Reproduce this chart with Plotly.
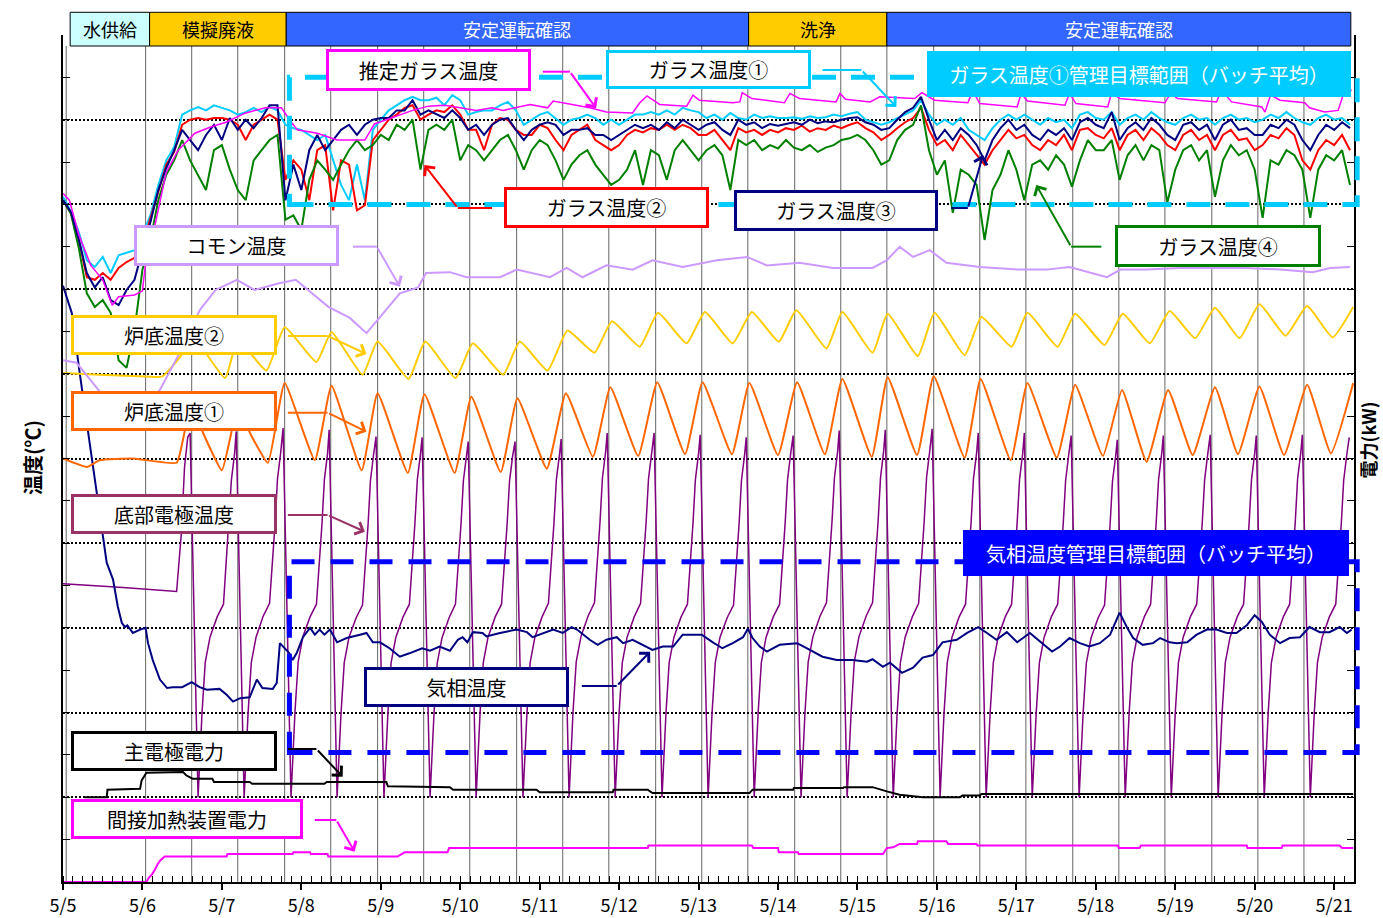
import numpy as np
import plotly.graph_objects as go

# ---------------- axis / period definitions (x = days elapsed since 5/5 00:00) ----------------
DAY_LABELS = ["5/5", "5/6", "5/7", "5/8", "5/9", "5/10", "5/11", "5/12", "5/13",
              "5/14", "5/15", "5/16", "5/17", "5/18", "5/19", "5/20", "5/21"]
X_MAX = 16.25

PHASE_NAMES = ["水供給", "模擬廃液", "安定運転確認", "洗浄", "安定運転確認"]
PHASE_START = [0.09, 1.09, 2.81, 8.63, 10.37]
PHASE_END = [1.09, 2.81, 8.63, 10.37, 16.21]
PHASE_FILL = ["#CCFFFF", "#FFCC00", "#3366FF", "#FFCC00", "#3366FF"]
PHASE_FONT = ["black", "black", "white", "black", "white"]

# batch change times (vertical lines)
BATCH_LINES = [0.04, 1.04, 1.62, 2.20, 2.79, 3.37, 3.96, 4.54, 5.12, 5.71, 6.29, 6.87, 7.46,
               8.04, 8.62, 9.21, 9.79, 10.37, 10.96, 11.54, 12.12, 12.71, 13.29, 13.87,
               14.46, 15.04, 15.62]

# management target ranges (batch average)
GLASS_TARGET = [800, 950]
GAS_TARGET = [153, 378]
TARGET_SPAN = [2.85, 16.29]

# ---------------- glass temperatures (sampled every 0.1 day) ----------------
GLASS_T = np.round(np.arange(163) * 0.1, 1)

GLASS1 = [809, 791, 767, 734, 726, 738, 719, 740, 743, 746, 764, 787, 823, 852, 868,
          906, 911, 915, 911, 917, 914, 911, 906, 909, 914, 909, 915, 911,
          894, 890, 888, 882, 876, 882, 852, 823, 805, 847, 805, 888,
          900, 911, 917, 923, 927, 923, 923, 926, 917, 929, 923,
          906, 909, 911, 911, 917, 921, 911, 894, 900, 906,
          909, 902, 894, 900, 902, 906, 902, 894, 900, 894,
          900, 906, 906, 909, 906, 911, 906, 914, 911, 909,
          902, 906, 900, 908, 902, 900, 906, 902, 904, 902,
          902, 903, 901, 904, 902, 903, 906, 904, 907, 909,
          900, 897, 894, 897, 902, 906, 911, 923, 906, 894,
          900, 894, 902, 888, 882, 876, 890, 900, 906, 900,
          906, 900, 894, 902, 897, 900, 890, 906, 909, 902,
          900, 909, 894, 902, 906, 900, 909, 902, 897, 894,
          902, 906, 900, 902, 894, 902, 906, 900, 902, 897,
          900, 906, 902, 909, 902, 897, 894, 902, 906, 900, 902, 894]

GLASS2 = [805, 790, 758, 714, 711, 719, 711, 725, 732, 737, 752, 782, 815, 847, 862,
          894, 900, 902, 900, 902, 902, 900, 894, 876, 894, 900, 906, 900,
          829, 852, 841, 805, 864, 870, 793, 852, 847, 793, 799, 876,
          888, 900, 906, 914, 917, 900, 906, 911, 909, 917, 906,
          888, 888, 864, 894, 902, 900, 888, 882, 882, 894,
          890, 876, 864, 882, 888, 894, 876, 870, 864, 870,
          882, 888, 885, 890, 888, 894, 888, 894, 890, 882,
          882, 888, 876, 864, 890, 885, 888, 882, 888, 885,
          890, 888, 893, 886, 890, 888, 893, 890, 894, 897,
          890, 885, 876, 882, 890, 897, 902, 914, 888, 870,
          876, 864, 882, 870, 858, 847, 864, 876, 888, 878,
          882, 870, 864, 876, 870, 882, 864, 888, 890, 882,
          878, 890, 864, 882, 888, 876, 890, 882, 870, 864,
          882, 888, 876, 882, 864, 882, 888, 876, 878, 864,
          870, 882, 878, 890, 882, 852, 841, 864, 876, 870, 882, 864]

GLASS3 = [805, 791, 758, 719, 702, 714, 687, 681, 699, 711, 746, 779, 817, 843, 864,
          888, 876, 864, 882, 894, 876, 902, 888, 900, 890, 902, 917, 917,
          805, 847, 817, 864, 882, 864, 876, 888, 894, 882, 894, 900,
          902, 902, 911, 911, 923, 906, 911, 906, 902, 911, 902,
          888, 894, 882, 894, 900, 902, 888, 876, 888, 894,
          897, 894, 882, 888, 888, 890, 882, 882, 876, 882,
          888, 894, 890, 894, 888, 897, 890, 900, 894, 888,
          894, 897, 888, 882, 900, 894, 897, 890, 895, 893,
          895, 897, 894, 900, 896, 898, 897, 900, 902, 903,
          897, 894, 888, 890, 900, 909, 914, 927, 900, 876,
          888, 876, 890, 882, 870, 852, 876, 890, 900, 888,
          894, 882, 876, 888, 882, 890, 876, 897, 902, 894,
          890, 909, 876, 890, 897, 888, 902, 894, 882, 876,
          894, 897, 888, 894, 876, 894, 900, 888, 890, 882,
          882, 894, 890, 900, 894, 876, 864, 882, 894, 888, 897, 890]

GLASS4 = [805, 789, 748, 695, 679, 687, 672, 616, 607, 652, 723, 758, 805, 835, 852,
          876, 852, 835, 817, 864, 870, 841, 817, 805, 852, 864, 876, 882,
          782, 787, 770, 829, 852, 841, 829, 847, 864, 876, 864, 870,
          882, 876, 894, 888, 900, 841, 888, 894, 888, 900, 852,
          870, 864, 852, 864, 876, 882, 864, 841, 864, 876,
          870, 852, 829, 847, 858, 864, 847, 835, 823, 829,
          841, 864, 823, 864, 858, 829, 864, 876, 864, 852,
          864, 870, 858, 817, 876, 870, 876, 864, 870, 866,
          876, 867, 864, 870, 862, 867, 870, 876, 878, 882,
          876, 864, 847, 852, 876, 888, 894, 917, 864, 835,
          852, 790, 841, 835, 823, 758, 817, 835, 864, 841,
          805, 847, 852, 841, 858, 847, 821, 852, 876, 864,
          864, 876, 829, 858, 870, 852, 870, 864, 802, 841,
          864, 870, 852, 864, 809, 852, 870, 858, 864, 841,
          784, 852, 847, 864, 858, 841, 784, 841, 858, 852, 864, 823]

# estimated glass temperature
EST_T = [0.00, 0.08, 0.20, 0.35, 0.50, 0.62, 0.70, 0.90, 1.00, 1.05,
         1.15, 1.30, 1.45, 1.66, 1.85, 2.05, 2.30, 2.55, 2.75, 2.85,
         2.95, 3.20, 3.45, 3.80, 3.92, 4.15, 4.40, 4.60, 4.80, 5.00,
         5.20, 5.40, 5.54, 5.88, 6.10, 6.17, 6.63, 6.84, 7.17, 7.26,
         7.35, 7.51, 7.85, 7.93, 8.01, 8.43, 8.52, 8.55, 8.67, 9.08,
         9.15, 9.27, 9.73, 9.78, 9.85, 10.16, 10.28, 10.72, 10.81, 10.97,
         11.39, 11.45, 11.54, 12.01, 12.06, 12.14, 12.61, 12.67, 12.75, 13.15,
         13.20, 13.30, 13.87, 13.94, 14.03, 14.52, 14.58, 14.71, 15.09, 15.13,
         15.20, 15.32, 15.63, 15.69, 15.88, 16.05, 16.12, 16.22]
EST_V = [813, 805, 764, 728, 711, 681, 691, 693, 698, 740,
         772, 838, 864, 884, 891, 897, 908, 914, 914, 900,
         888, 884, 876, 876, 895, 903, 911, 916, 917, 914,
         911, 914, 911, 918, 914, 922, 914, 909, 908, 920,
         928, 918, 916, 929, 923, 920, 921, 932, 925, 920,
         931, 925, 921, 931, 924, 921, 927, 925, 932, 923,
         920, 934, 919, 915, 931, 922, 917, 931, 919, 915,
         932, 925, 920, 931, 925, 921, 935, 921, 915, 909,
         929, 923, 920, 914, 909, 911, 931, 935]

# common (plenum) temperature
COMMON_T = [0.00, 0.17, 0.37, 0.46, 0.65, 0.97, 1.22, 1.47, 1.72, 1.92,
            2.19, 2.41, 2.72, 2.93, 3.13, 3.34, 3.61, 3.82, 3.99, 4.24,
            4.47, 4.57, 4.87, 5.08, 5.50, 5.71, 6.13, 6.34, 6.54, 6.84,
            7.17, 7.42, 7.80, 8.23, 8.61, 8.86, 9.27, 9.69, 10.19, 10.37,
            10.53, 10.70, 10.91, 11.12, 11.54, 12.04, 12.38, 12.67, 13.14, 13.31,
            13.64, 14.06, 14.47, 14.90, 15.32, 15.73, 15.95, 16.20]
COMMON_V = [616, 613, 590, 579, 557, 555, 581, 625, 675, 699,
            711, 699, 707, 711, 695, 679, 666, 648, 667, 695,
            702, 719, 720, 714, 714, 723, 714, 725, 714, 728,
            723, 734, 726, 734, 738, 728, 731, 725, 725, 734,
            750, 738, 746, 731, 726, 723, 723, 726, 714, 723,
            723, 725, 725, 725, 723, 720, 725, 726]

# furnace bottom temperature (2)
BOT2_T = [0.00, 0.46, 0.97, 1.25, 1.49, 1.62, 2.04, 2.20, 2.56, 2.79,
          3.19, 3.38, 3.77, 3.96, 4.35, 4.56, 4.94, 5.16, 5.54, 5.75,
          6.10, 6.35, 6.69, 6.91, 7.26, 7.49, 7.85, 8.08, 8.43, 8.67,
          9.01, 9.23, 9.61, 9.81, 10.19, 10.38, 10.76, 10.97, 11.35, 11.56,
          11.94, 12.14, 12.52, 12.74, 13.11, 13.34, 13.68, 13.93, 14.25, 14.50,
          14.81, 15.06, 15.39, 15.66, 15.98, 16.24]
BOT2_V = [601, 599, 597, 597, 622, 646, 595, 640, 604, 655,
          614, 649, 599, 638, 594, 638, 595, 636, 599, 638,
          604, 651, 625, 662, 632, 672, 636, 673, 636, 673,
          638, 675, 630, 673, 625, 671, 621, 672, 622, 667,
          632, 672, 632, 671, 634, 671, 636, 674, 642, 678,
          642, 682, 645, 680, 643, 679]

# furnace bottom temperature (1)
BOT1_T = [0.00, 0.30, 0.46, 0.88, 1.43, 1.51, 1.62, 1.76, 2.00, 2.12,
          2.22, 2.35, 2.58, 2.79, 3.17, 3.38, 3.76, 3.96, 4.34, 4.55,
          4.93, 5.14, 5.51, 5.72, 6.09, 6.33, 6.67, 6.89, 7.24, 7.48,
          7.83, 8.05, 8.42, 8.64, 9.00, 9.24, 9.59, 9.81, 10.18, 10.38,
          10.75, 10.96, 11.35, 11.55, 11.93, 12.14, 12.51, 12.74, 13.09, 13.33,
          13.64, 13.91, 14.22, 14.50, 14.79, 15.06, 15.37, 15.66, 15.96, 16.24]
BOT1_V = [500, 490, 498, 500, 495, 522, 569, 531, 486, 531,
          571, 531, 495, 589, 498, 586, 486, 577, 483, 576,
          483, 573, 484, 571, 488, 577, 502, 584, 503, 590,
          505, 590, 505, 589, 504, 590, 505, 594, 502, 596,
          504, 597, 501, 594, 498, 589, 501, 587, 503, 581,
          496, 581, 504, 584, 505, 585, 504, 587, 506, 589]

# bottom electrode temperature
ELEC_T = [0.00, 0.71, 1.43, 1.49, 1.53, 1.57, 1.60,
          1.70, 1.75, 1.79, 1.85, 1.94, 2.02, 2.09, 2.12, 2.16, 2.18,
          2.28, 2.33, 2.37, 2.43, 2.52, 2.60, 2.67, 2.70, 2.74, 2.77,
          2.87, 2.92, 2.96, 3.02, 3.11, 3.19, 3.26, 3.29, 3.33, 3.35,
          3.45, 3.50, 3.54, 3.60, 3.69, 3.77, 3.84, 3.87, 3.91, 3.94,
          4.04, 4.09, 4.13, 4.19, 4.28, 4.36, 4.43, 4.46, 4.50, 4.52,
          4.62, 4.67, 4.71, 4.77, 4.86, 4.94, 5.01, 5.04, 5.08, 5.10,
          5.20, 5.25, 5.29, 5.35, 5.44, 5.52, 5.59, 5.62, 5.66, 5.69,
          5.79, 5.84, 5.88, 5.94, 6.03, 6.11, 6.18, 6.21, 6.25, 6.27,
          6.37, 6.42, 6.46, 6.52, 6.61, 6.69, 6.76, 6.79, 6.83, 6.85,
          6.95, 7.00, 7.04, 7.10, 7.19, 7.27, 7.34, 7.37, 7.41, 7.44,
          7.54, 7.59, 7.63, 7.69, 7.78, 7.86, 7.93, 7.96, 8.00, 8.02,
          8.12, 8.17, 8.21, 8.27, 8.36, 8.44, 8.51, 8.54, 8.58, 8.60,
          8.70, 8.75, 8.79, 8.85, 8.94, 9.02, 9.09, 9.12, 9.16, 9.19,
          9.29, 9.34, 9.38, 9.44, 9.53, 9.61, 9.68, 9.71, 9.75, 9.77,
          9.87, 9.92, 9.96, 10.02, 10.11, 10.19, 10.26, 10.29, 10.33, 10.35,
          10.45, 10.50, 10.54, 10.60, 10.69, 10.77, 10.84, 10.87, 10.91, 10.94,
          11.04, 11.09, 11.13, 11.19, 11.28, 11.36, 11.43, 11.46, 11.50, 11.52,
          11.62, 11.67, 11.71, 11.77, 11.86, 11.94, 12.01, 12.04, 12.08, 12.10,
          12.20, 12.25, 12.29, 12.35, 12.44, 12.52, 12.59, 12.62, 12.66, 12.69,
          12.79, 12.84, 12.88, 12.94, 13.03, 13.11, 13.18, 13.21, 13.25, 13.27,
          13.37, 13.42, 13.46, 13.52, 13.61, 13.69, 13.76, 13.79, 13.83, 13.85,
          13.95, 14.00, 14.04, 14.10, 14.19, 14.27, 14.34, 14.37, 14.41, 14.44,
          14.54, 14.59, 14.63, 14.69, 14.78, 14.86, 14.93, 14.96, 15.00, 15.02,
          15.12, 15.17, 15.21, 15.27, 15.36, 15.44, 15.51, 15.54, 15.58, 15.60,
          15.70, 15.75, 15.79, 15.85, 15.94, 16.02, 16.09, 16.12, 16.16, 16.19]
ELEC_V = [352, 348, 343, 412, 490, 525, 530,
          100, 200, 259, 289, 313, 328, 424, 475, 506, 532,
          100, 200, 259, 289, 314, 329, 424, 476, 507, 536,
          100, 201, 260, 290, 313, 328, 423, 475, 506, 534,
          100, 200, 259, 289, 312, 327, 422, 474, 505, 526,
          100, 200, 259, 289, 313, 328, 424, 475, 506, 525,
          100, 199, 258, 288, 312, 328, 423, 474, 504, 520,
          100, 200, 259, 289, 313, 328, 422, 473, 503, 520,
          100, 200, 259, 289, 313, 329, 424, 475, 505, 523,
          100, 201, 260, 290, 314, 330, 426, 477, 508, 530,
          100, 200, 259, 289, 313, 329, 425, 476, 507, 530,
          100, 200, 259, 289, 313, 328, 424, 475, 506, 528,
          100, 200, 259, 289, 312, 327, 423, 474, 505, 525,
          100, 200, 259, 289, 313, 328, 424, 475, 506, 527,
          100, 201, 260, 290, 314, 330, 426, 477, 508, 533,
          100, 200, 260, 290, 314, 330, 426, 477, 509, 534,
          100, 200, 259, 289, 313, 329, 426, 478, 509, 535,
          100, 200, 259, 289, 313, 328, 424, 476, 507, 530,
          100, 200, 259, 289, 313, 328, 424, 475, 506, 530,
          100, 200, 259, 289, 313, 328, 423, 474, 505, 527,
          100, 199, 258, 288, 312, 327, 422, 473, 503, 522,
          100, 200, 259, 289, 313, 328, 424, 475, 506, 527,
          100, 200, 259, 289, 313, 328, 424, 475, 506, 528,
          100, 200, 259, 289, 313, 328, 424, 475, 506, 527,
          100, 200, 259, 289, 313, 328, 424, 476, 507, 528,
          100, 200, 259, 289, 313, 328, 423, 474, 505, 525]

# gas phase temperature
GAS_T = [0.00, 0.11, 0.21, 0.34, 0.46, 0.55, 0.63, 0.69, 0.74, 0.78,
         0.81, 0.88, 0.97, 1.04, 1.07, 1.13, 1.22, 1.31, 1.38, 1.50,
         1.62, 1.72, 1.81, 1.97, 2.06, 2.14, 2.23, 2.35, 2.44, 2.51,
         2.64, 2.69, 2.73, 2.79, 2.85, 2.89, 2.94, 3.02, 3.11, 3.17,
         3.23, 3.29, 3.36, 3.45, 3.57, 3.74, 3.82, 3.90, 3.99, 4.11,
         4.24, 4.36, 4.52, 4.62, 4.74, 4.87, 4.97, 5.03, 5.09, 5.16,
         5.28, 5.33, 5.50, 5.71, 5.84, 5.91, 6.00, 6.17, 6.29, 6.40,
         6.47, 6.63, 6.73, 6.84, 6.97, 7.05, 7.17, 7.30, 7.42, 7.55,
         7.68, 7.80, 7.93, 8.04, 8.18, 8.30, 8.43, 8.56, 8.62, 8.68,
         8.77, 8.86, 9.02, 9.24, 9.36, 9.56, 9.74, 9.94, 10.12, 10.19,
         10.32, 10.41, 10.56, 10.70, 10.82, 10.95, 11.07, 11.25, 11.38, 11.52,
         11.63, 11.75, 11.88, 12.01, 12.17, 12.33, 12.45, 12.55, 12.67, 12.80,
         12.92, 13.05, 13.18, 13.30, 13.39, 13.47, 13.59, 13.72, 13.81, 13.93,
         14.02, 14.15, 14.27, 14.40, 14.52, 14.65, 14.77, 14.90, 15.00, 15.09,
         15.19, 15.32, 15.44, 15.57, 15.69, 15.82, 15.94, 16.07, 16.16, 16.22]
GAS_V = [704, 672, 601, 514, 436, 377, 357, 325, 306, 301,
         303, 294, 298, 300, 282, 262, 239, 229, 230, 230,
         236, 230, 227, 228, 221, 213, 217, 218, 239, 229,
         228, 235, 282, 276, 270, 262, 270, 289, 300, 292,
         298, 292, 298, 283, 288, 292, 294, 283, 283, 276,
         266, 270, 276, 273, 278, 273, 286, 289, 283, 295,
         294, 290, 294, 298, 295, 289, 292, 298, 294, 301,
         298, 286, 280, 286, 289, 282, 286, 280, 274, 278,
         278, 292, 292, 292, 283, 276, 282, 289, 299, 288,
         278, 272, 280, 282, 276, 266, 262, 262, 260, 263,
         254, 259, 247, 253, 265, 268, 283, 286, 294, 301,
         294, 286, 295, 283, 294, 282, 272, 278, 288, 282,
         278, 282, 292, 318, 301, 288, 280, 282, 288, 283,
         282, 283, 292, 298, 298, 294, 294, 303, 315, 307,
         292, 282, 288, 289, 301, 295, 295, 301, 294, 298]

# main electrode power (kW)
MAIN_T = [0.27, 0.55, 0.56, 0.97, 0.99, 1.05, 1.51, 1.55, 1.63, 1.88,
          1.90, 2.35, 2.38, 3.29, 3.32, 4.07, 4.09, 4.87, 4.91, 5.96,
          6.00, 6.92, 6.93, 7.36, 7.42, 8.64, 8.68, 9.19, 9.20, 9.82,
          9.83, 10.19, 10.37, 10.41, 10.53, 10.82, 11.29, 11.32, 11.54, 11.56,
          16.24]
MAIN_KW = [10.0, 10.0, 10.9, 11.0, 12.0, 12.9, 13.0, 12.6, 12.2, 12.2,
           11.8, 11.8, 11.6, 11.6, 11.8, 11.8, 11.3, 11.2, 10.9, 10.9,
           10.6, 10.6, 10.9, 10.9, 10.5, 10.5, 10.9, 10.9, 11.1, 11.1,
           11.2, 11.2, 10.7, 10.6, 10.3, 10.0, 10.0, 10.2, 10.2, 10.4,
           10.4]

# indirect heater power (kW)
HEAT_T = [0.00, 1.05, 1.08, 1.12, 1.16, 1.19, 1.23, 1.28, 2.06, 2.07,
          2.89, 2.90, 3.11, 3.12, 3.33, 3.34, 4.21, 4.30, 4.84, 4.86,
          7.36, 7.37, 8.67, 8.69, 9.00, 9.01, 9.25, 9.26, 10.32, 10.37,
          10.45, 10.53, 10.75, 10.76, 11.12, 11.14, 11.50, 11.51, 13.28, 13.29,
          13.55, 13.57, 14.90, 14.91, 15.34, 15.35, 16.07, 16.10, 16.24]
HEAT_KW = [0.0, 0.0, 0.5, 0.9, 1.5, 2.1, 2.6, 3.0, 3.0, 3.3,
           3.3, 3.5, 3.5, 3.3, 3.3, 3.0, 3.0, 3.5, 3.5, 4.0,
           4.0, 4.3, 4.3, 4.0, 4.0, 3.5, 3.5, 3.3, 3.3, 4.0,
           4.1, 4.5, 4.5, 4.8, 4.8, 4.5, 4.5, 4.3, 4.3, 4.0,
           4.0, 4.3, 4.3, 4.0, 4.0, 4.3, 4.3, 4.0, 4.0]

# ---------------- colours ----------------
C_G1, C_G2, C_G3, C_G4 = "#00CCFF", "#FF0000", "#000080", "#008000"
C_EST, C_COMMON = "#FF00FF", "#CC99FF"
C_BOT2, C_BOT1, C_ELEC = "#FFCC00", "#FF6600", "#800080"
C_GAS, C_MAIN, C_HEAT = "#000080", "#000000", "#FF00FF"
FONT = "Noto Sans CJK JP, Noto Sans, sans-serif"

fig = go.Figure()


def line(t, v, color, width, yaxis="y", shape="linear", smoothing=None):
    ln = dict(color=color, width=width, shape=shape)
    if smoothing is not None:
        ln["smoothing"] = smoothing
    fig.add_trace(go.Scatter(x=t, y=v, mode="lines", line=ln, yaxis=yaxis,
                             hoverinfo="skip", showlegend=False))


line(HEAT_T, HEAT_KW, C_HEAT, 2, yaxis="y2")
line(MAIN_T, MAIN_KW, C_MAIN, 2, yaxis="y2")
line(ELEC_T, ELEC_V, C_ELEC, 1.5)
line(GAS_T, GAS_V, C_GAS, 2)
line(BOT1_T, BOT1_V, C_BOT1, 2, shape="spline", smoothing=0.4)
line(BOT2_T, BOT2_V, C_BOT2, 2, shape="spline", smoothing=0.45)
line(COMMON_T, COMMON_V, C_COMMON, 2)
line(GLASS_T, GLASS1, C_G1, 2)
line(GLASS_T, GLASS2, C_G2, 2)
line(GLASS_T, GLASS4, C_G4, 2)
line(GLASS_T, GLASS3, C_G3, 2)
line(EST_T, EST_V, C_EST, 1.5)

shapes = []
annotations = []


def px(t):
    return t / X_MAX


# batch change lines
for t in BATCH_LINES:
    shapes.append(dict(type="line", xref="x", yref="paper", x0=t, x1=t, y0=0, y1=0.987,
                       line=dict(color="#666666", width=1), layer="between"))

# target range rectangles
shapes.append(dict(type="rect", xref="paper", yref="paper",
                   x0=px(TARGET_SPAN[0]), x1=px(TARGET_SPAN[1]),
                   y0=GLASS_TARGET[0] / 1000, y1=GLASS_TARGET[1] / 1000,
                   line=dict(color="#00CCFF", width=5, dash="24px,15px"), layer="above"))
shapes.append(dict(type="rect", xref="paper", yref="paper",
                   x0=px(TARGET_SPAN[0]), x1=px(TARGET_SPAN[1]),
                   y0=GAS_TARGET[0] / 1000, y1=GAS_TARGET[1] / 1000,
                   line=dict(color="#0000FF", width=5, dash="23px,16px"), layer="above"))

# phase bar along the top
for name, a, b, fill, fc in zip(PHASE_NAMES, PHASE_START, PHASE_END, PHASE_FILL, PHASE_FONT):
    shapes.append(dict(type="rect", xref="paper", yref="paper", x0=px(a), x1=px(b),
                       y0=0.987, y1=1.0268, fillcolor=fill,
                       line=dict(color="black", width=1), layer="above"))
    annotations.append(dict(xref="paper", yref="paper", x=px((a + b) / 2), y=1.0069,
                            text=name, showarrow=False, xanchor="center", yanchor="middle",
                            font=dict(size=18, color=fc, family=FONT)))

# series labels: text, centre (day, value), box width/height in px, border colour, fill, text colour
LABELS = [
    ("推定ガラス温度", 4.60, 958.7, 203, 40, C_EST, "white", "black"),
    ("ガラス温度①", 8.12, 959.3, 203, 37, C_G1, "white", "black"),
    ("ガラス温度①管理目標範囲（バッチ平均）", 13.54, 954.0, 422, 44, "#00CCFF", "#00CCFF", "white"),
    ("ガラス温度②", 6.84, 796.3, 203, 39, C_G2, "white", "black"),
    ("ガラス温度③", 9.73, 792.8, 202, 39, C_G3, "white", "black"),
    ("ガラス温度④", 14.54, 750.9, 204, 40, C_G4, "white", "black"),
    ("コモン温度", 2.19, 751.5, 203, 39, C_COMMON, "white", "black"),
    ("炉底温度②", 1.394, 645.8, 204, 38, C_BOT2, "white", "black"),
    ("炉底温度①", 1.394, 556.1, 204, 38, C_BOT1, "white", "black"),
    ("底部電極温度", 1.394, 434.5, 204, 38, "#993366", "white", "black"),
    ("気相温度管理目標範囲（バッチ平均）", 13.755, 388.4, 384, 44, "#0000FF", "#0000FF", "white"),
    ("気相温度", 5.08, 230.2, 203, 38, C_GAS, "white", "black"),
    ("主電極電力", 1.394, 154.7, 204, 38, "black", "white", "black"),
    ("間接加熱装置電力", 1.557, 74.4, 230, 38, C_HEAT, "white", "black"),
]

# leader arrows: tail, elbow, head (day, value) and colour
ARROWS = [
    (6.04, 956.7, 6.38, 956.7, 6.71, 913.5, C_EST),
    (9.56, 958.7, 10.05, 958.7, 10.49, 915.0, C_G1),
    (5.40, 795.7, 4.97, 795.7, 4.55, 846.5, C_G2),
    (11.18, 795.7, 11.39, 795.7, 11.58, 858.3, C_G3),
    (13.07, 750.1, 12.69, 750.1, 12.25, 822.9, C_G4),
    (3.65, 750.1, 3.95, 750.1, 4.24, 702.8, C_COMMON),
    (2.83, 644.6, 3.33, 644.6, 3.82, 623.4, C_BOT2),
    (2.83, 554.1, 3.33, 554.1, 3.82, 531.6, C_BOT1),
    (2.83, 433.3, 3.33, 433.3, 3.80, 413.6, "#993366"),
    (6.53, 231.4, 6.97, 231.4, 7.39, 271.9, C_GAS),
    (2.83, 157.0, 3.19, 157.0, 3.52, 124.3, "black"),
    (3.17, 73.2, 3.44, 73.2, 3.67, 35.8, C_HEAT),
]

for t0, v0, t1, v1, t2, v2, col in ARROWS:
    shapes.append(dict(type="line", xref="x", yref="y", x0=t0, y0=v0, x1=t1, y1=v1,
                       line=dict(color=col, width=2), layer="above"))
    annotations.append(dict(xref="x", yref="y", axref="x", ayref="y", x=t2, y=v2, ax=t1, ay=v1,
                            text="", showarrow=True, arrowhead=4, arrowsize=1.3,
                            arrowwidth=2, arrowcolor=col, standoff=0, startstandoff=0))

for text, tc, vc, w, h, bc, bg, fc in LABELS:
    annotations.append(dict(xref="x", yref="y", x=tc, y=vc, text=text, showarrow=False,
                            xanchor="center", yanchor="middle", width=w - 4, height=h - 4,
                            bgcolor=bg, bordercolor=bc, borderwidth=3, borderpad=0,
                            font=dict(size=20, color=fc, family=FONT)))

# axis titles
annotations.append(dict(xref="paper", yref="paper", x=-0.0232, y=0.5006, text="<b>温度(℃)</b>",
                        textangle=-90, showarrow=False, xanchor="center", yanchor="middle",
                        font=dict(size=20, color="black", family=FONT)))
annotations.append(dict(xref="paper", yref="paper", x=1.0105, y=0.522, text="<b>電力(kW)</b>",
                        textangle=-90, showarrow=False, xanchor="center", yanchor="middle",
                        font=dict(size=18, color="black", family=FONT)))

fig.update_layout(
    width=1383, height=918,
    margin=dict(l=63, r=29, t=35, b=36, autoexpand=False),
    paper_bgcolor="white", plot_bgcolor="white",
    showlegend=False,
    font=dict(family=FONT, color="black"),
    shapes=shapes,
    annotations=annotations,
    xaxis=dict(range=[0, X_MAX], tickmode="array", tickvals=list(range(len(DAY_LABELS))),
               ticktext=DAY_LABELS, ticks="outside", ticklen=6, tickwidth=1.5, tickcolor="black",
               showline=True, linecolor="black", linewidth=2, showgrid=False, zeroline=False,
               automargin=False,
               tickfont=dict(size=18, color="black", family=FONT), ticklabelstandoff=0,
               minor=dict(tickmode="linear", tick0=0, dtick=0.125, ticks="inside", ticklen=6,
                          tickwidth=1, tickcolor="black", showgrid=False)),
    yaxis=dict(range=[0, 1000], tickmode="array", tickvals=[100, 200, 300, 400, 500, 600, 700, 800, 900],
               showticklabels=False, ticks="inside", ticklen=7, tickcolor="black",
               showline=True, linecolor="black", linewidth=2, zeroline=False, automargin=False,
               showgrid=True, gridcolor="black", gridwidth=2, griddash="2px,2px",
               minor=dict(tickmode="linear", tick0=0, dtick=50, ticks="inside", ticklen=7,
                          tickcolor="black", showgrid=False)),
    yaxis2=dict(range=[0, 100], overlaying="y", side="right", showticklabels=False,
                ticks="inside", ticklen=7, tickcolor="black", tickmode="linear", tick0=0, dtick=5,
                showline=True, linecolor="black", linewidth=2, showgrid=False, zeroline=False,
                automargin=False),
)

fig.write_html("out.html")
